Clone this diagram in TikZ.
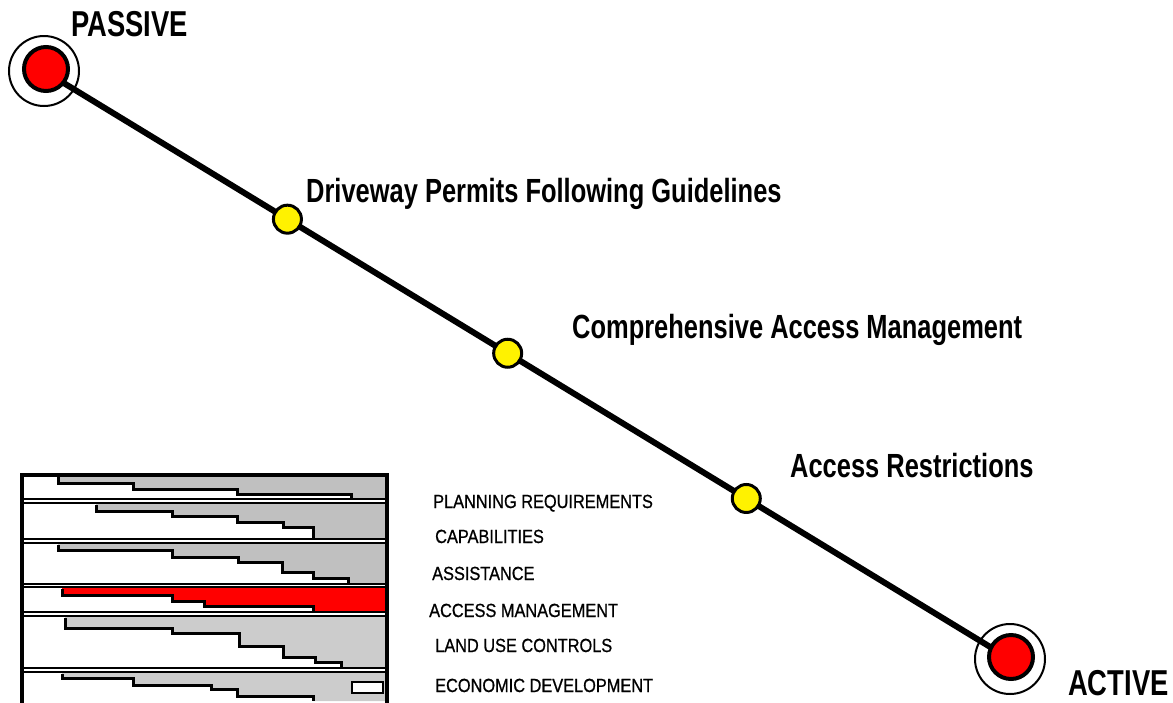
\documentclass[tikz,border=0pt]{standalone}
\usepackage{fontspec}
\setmainfont{Liberation Sans}
\newfontfamily\condb{Liberation Sans}[FakeStretch=0.76]
\newfontfamily\condr{Liberation Sans}[FakeStretch=0.86,FakeBold=0.8]
\definecolor{rowA}{RGB}{192,192,192}
\definecolor{rowB}{RGB}{204,204,204}
\begin{document}
\begin{tikzpicture}[x=1pt,y=-1pt,
  ring/.style={circle, draw, line width=2pt, fill=white, minimum size=70pt, inner sep=0pt},
  endpt/.style={circle, draw, line width=4pt, fill=red, minimum size=44pt, inner sep=0pt},
  stopdot/.style={circle, draw, line width=3pt, fill=yellow, minimum size=28pt, inner sep=0pt},
  mainline/.style={line width=6pt},
  biglabel/.style={font=\condb\bfseries\fontsize{33.5}{36}\selectfont, anchor=base west, inner sep=0pt},
  endlabel/.style={font=\condb\bfseries\fontsize{36}{40}\selectfont, anchor=base west, inner sep=0pt},
  rowlabel/.style={font=\condr\fontsize{19}{22}\selectfont, anchor=base west, inner sep=0pt},
  stair/.style={line width=3pt, line join=miter},
  rowtop/.style={line width=1.2pt},
  rowbot/.style={line width=2.2pt}]
\useasboundingbox (0,0) rectangle (1173,702);

% end point rings
\node[ring] (pr) at (44,71) {};
\node[ring] (ar) at (1010,659) {};
% main line
\draw[mainline] (pr.center) -- (ar.center)
  node[stopdot, pos=0.252] (y1) {}
  node[stopdot, pos=0.480] (y2) {}
  node[stopdot, pos=0.727] (y3) {};
\node[endpt] (p) at (46,69) {};
\node[endpt] (a) at (1011,657) {};

% labels
\node[endlabel] (lp) at (71,36) {PASSIVE};
\node[endlabel] (la) at (1068,695) {ACTIVE};
\node[biglabel] (l1) at (306,202) {Driveway Permits Following Guidelines};
\node[biglabel] (l2) at (572,338) {Comprehensive Access Management};
\node[biglabel] (l3) at (790,477) {Access Restrictions};

% chart fills
\fill[rowA] (58,475) -- (58,483) -- (133,483) -- (133,489) -- (237,489) -- (237,494) -- (351,494) -- (351,499) -- (387,499) -- (387,475) -- cycle;
\fill[rowA] (96,503) -- (96,511) -- (172,511) -- (172,516) -- (237,516) -- (237,522) -- (283,522) -- (283,527) -- (313,527) -- (313,539) -- (387,539) -- (387,503) -- cycle;
\fill[rowA] (58,543) -- (58,550) -- (172,550) -- (172,557) -- (238,557) -- (238,562) -- (282,562) -- (282,572) -- (313,572) -- (313,578) -- (348,578) -- (348,584) -- (387,584) -- (387,543) -- cycle;
\fill[red] (62,587) -- (62,595) -- (172,595) -- (172,601) -- (204,601) -- (204,606) -- (313,606) -- (313,612) -- (387,612) -- (387,587) -- cycle;
\fill[rowB] (65,616) -- (65,628) -- (172,628) -- (172,633) -- (239,633) -- (239,646) -- (283,646) -- (283,657) -- (315,657) -- (315,662) -- (341,662) -- (341,667) -- (387,667) -- (387,616) -- cycle;
\fill[rowB] (62,672) -- (62,678) -- (133,678) -- (133,685) -- (211,685) -- (211,689) -- (237,689) -- (237,696) -- (313,696) -- (313,701) -- (387,701) -- (387,672) -- cycle;

% staircases
\draw[stair] (58,477) -- (58,483) -- (133,483) -- (133,489) -- (237,489) -- (237,494) -- (351,494) -- (351,499);
\draw[stair] (96,505) -- (96,511) -- (172,511) -- (172,516) -- (237,516) -- (237,522) -- (283,522) -- (283,527) -- (313,527) -- (313,539);
\draw[stair] (58,545) -- (58,550) -- (172,550) -- (172,557) -- (238,557) -- (238,562) -- (282,562) -- (282,572) -- (313,572) -- (313,578) -- (348,578) -- (348,584);
\draw[stair] (62,589) -- (62,595) -- (172,595) -- (172,601) -- (204,601) -- (204,606) -- (313,606) -- (313,612);
\draw[stair] (65,618) -- (65,628) -- (172,628) -- (172,633) -- (239,633) -- (239,646) -- (283,646) -- (283,657) -- (315,657) -- (315,662) -- (341,662) -- (341,667);
\draw[stair] (62,674) -- (62,678) -- (133,678) -- (133,685) -- (211,685) -- (211,689) -- (237,689) -- (237,696) -- (313,696) -- (313,701);
\draw[line width=2.5pt, fill=white] (352,682) rectangle (383,693);

% row separators
\foreach \t in {503,543,587,616,672} \draw[rowtop] (22,\t) -- (387,\t);
\foreach \b in {499,539,584,612,668} \draw[rowbot] (22,\b) -- (387,\b);
% outer frame
\draw[line width=4pt] (22,475) rectangle (387,712);

% row labels
\node[rowlabel] (r1) at (433,508) {PLANNING REQUIREMENTS};
\node[rowlabel] (r2) at (435,543) {CAPABILITIES};
\node[rowlabel] (r3) at (432,580) {ASSISTANCE};
\node[rowlabel] (r4) at (429,617) {ACCESS MANAGEMENT};
\node[rowlabel] (r5) at (435,652) {LAND USE CONTROLS};
\node[rowlabel] (r6) at (435,692) {ECONOMIC DEVELOPMENT};
\end{tikzpicture}
\end{document}
